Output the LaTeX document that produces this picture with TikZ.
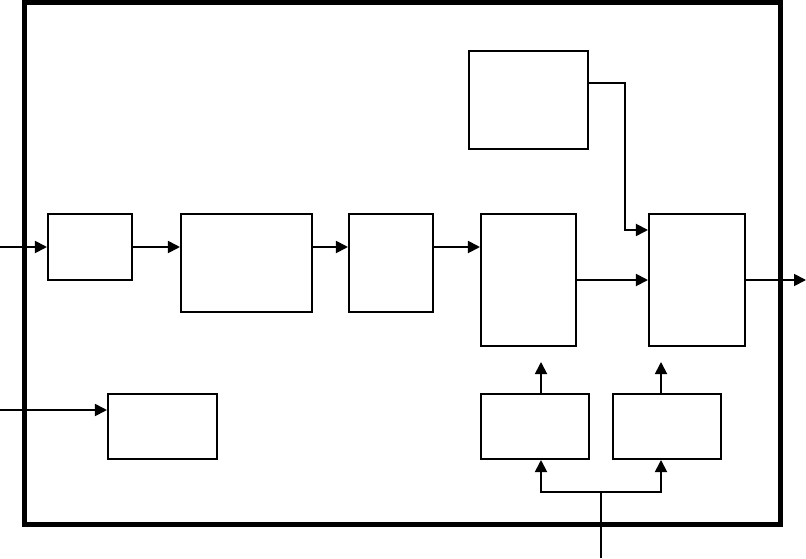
\documentclass[tikz,border=0pt]{standalone}
\usetikzlibrary{positioning,arrows.meta,calc}

\begin{document}
\begin{tikzpicture}[
  x=0.025cm, y=-0.025cm,
  blk/.style={draw, line width=0.05cm, inner sep=0pt},
  arr/.style={-{Triangle[length=0.3cm, width=0.3cm]}, line width=0.045cm},
  wire/.style={line width=0.045cm},
  frame/.style={draw, line width=0.125cm},
  ]
  \useasboundingbox (0,0) rectangle (806,558);

  % outer frame
  \draw[frame] (24.5,2.5) rectangle (780,524.5);

  % main chain
  \node[blk, minimum width=2.1cm,   minimum height=1.65cm]  (a) at (90,247)      {};
  \node[blk, minimum width=3.275cm, minimum height=2.45cm]  (b) at (246.5,263)   {};
  \node[blk, minimum width=2.1cm,   minimum height=2.45cm]  (c) at (391,263)     {};
  \node[blk, minimum width=2.375cm, minimum height=3.275cm] (d) at (528.5,280)   {};
  \node[blk, minimum width=2.975cm, minimum height=2.45cm]  (e) at (528.5,100)   {};
  \node[blk, minimum width=2.4cm,   minimum height=3.275cm] (f) at (697,280)     {};

  % lower row
  \node[blk, minimum width=2.725cm, minimum height=1.625cm] (g) at (162.5,426.5) {};
  \node[blk, minimum width=2.7cm,   minimum height=1.625cm] (h) at (535,426.5)   {};
  \node[blk, minimum width=2.7cm,   minimum height=1.625cm] (i) at (667,426.5)   {};

  % free ends
  \coordinate (inA)   at (0,247);
  \coordinate (inG)   at (0,410);
  \coordinate (out)   at (806,280);
  \coordinate (bend)  at (625,83);
  \coordinate (hTip)  at (541,362);
  \coordinate (iTip)  at (661,362);
  \coordinate (feed)  at (601,558);
  \coordinate (split) at (601,492);

  % arrows
  \draw[arr] (inA) -- (a.west);
  \draw[arr] (a) -- (b.west |- a);
  \draw[arr] (b.east |- a) -- (c.west |- a);
  \draw[arr] (c.east |- a) -- (d.west |- a);
  \draw[arr] (d) -- (f);
  \draw[arr] (f) -- (out);
  \draw[arr] (bend -| e.east) -- (bend) |- ($(f.north west)+(0,16.5)$);
  \draw[arr] (inG) -- (g.west |- inG);

  % feedback from lower blocks
  \draw[arr] (hTip |- h.north) -- (hTip);
  \draw[arr] (iTip |- i.north) -- (iTip);
  \draw[wire] (feed) -- (split);
  \draw[arr] (split) -| (hTip |- h.south);
  \draw[arr] (split) -| (iTip |- i.south);
\end{tikzpicture}
\end{document}
